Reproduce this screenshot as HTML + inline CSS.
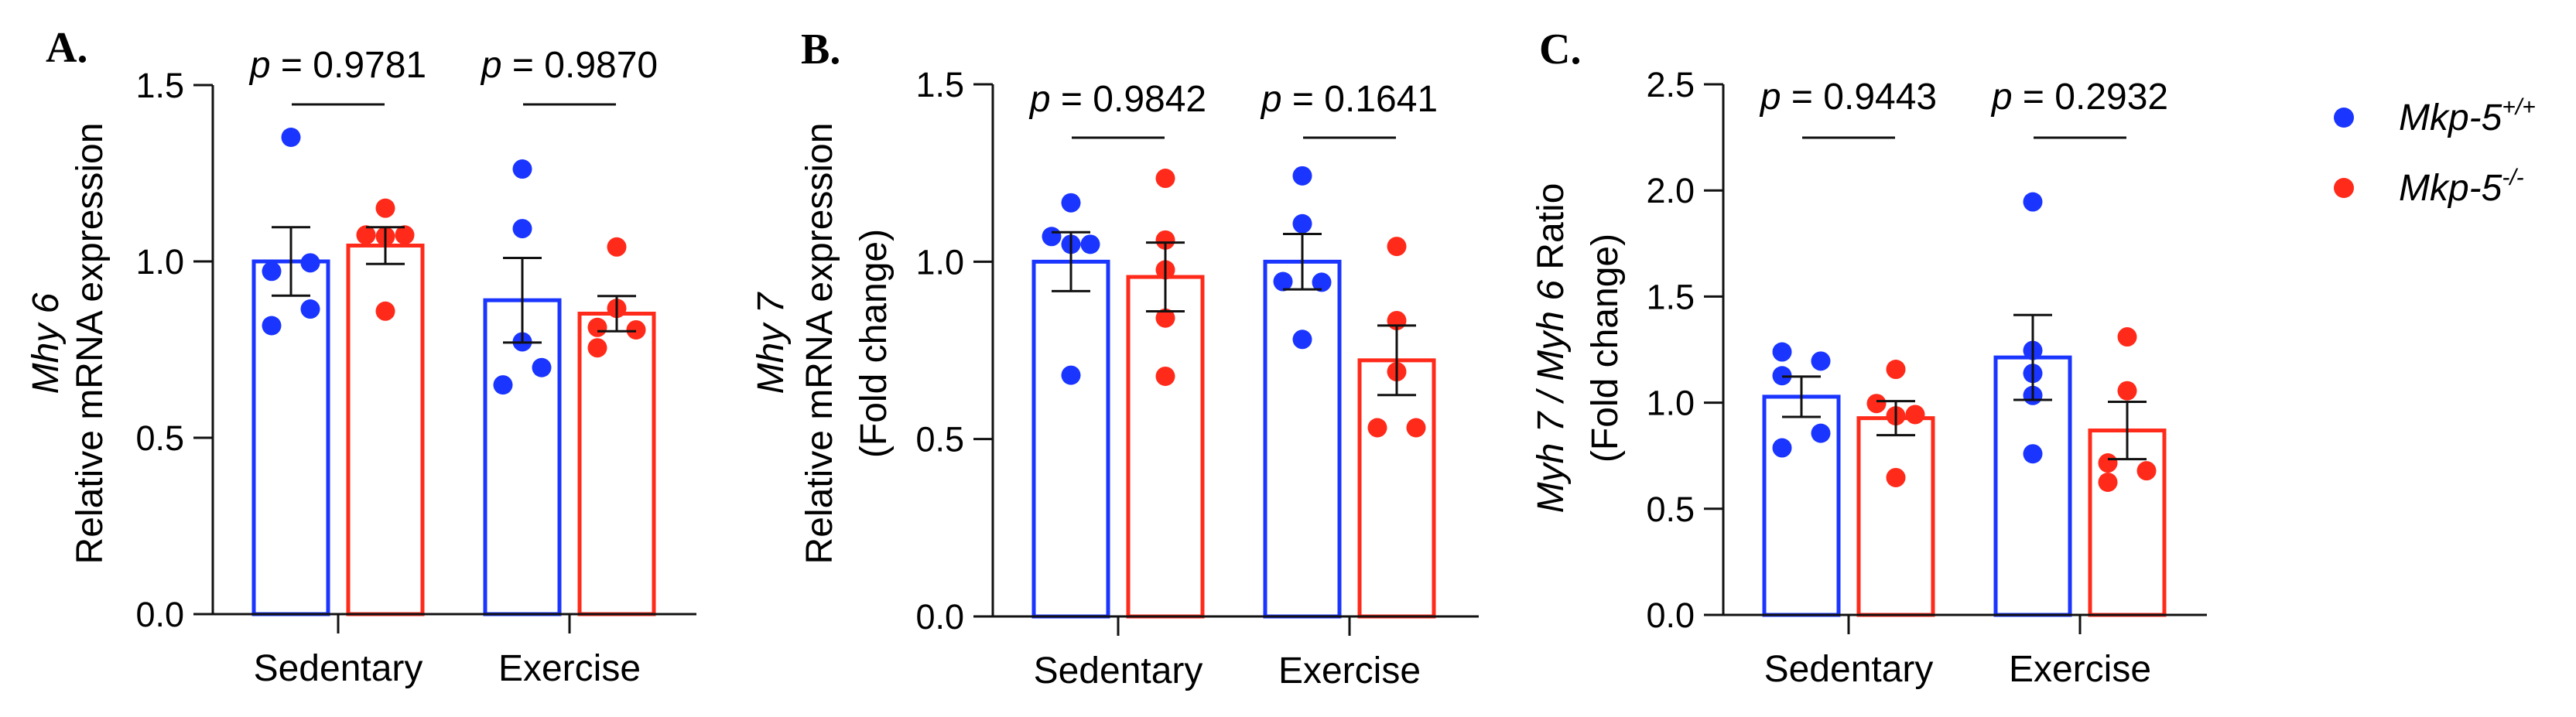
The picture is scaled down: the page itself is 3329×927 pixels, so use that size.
<!DOCTYPE html>
<html><head><meta charset="utf-8"><style>
html,body{margin:0;padding:0;background:#fff;}
svg{display:block;font-family:"Liberation Sans",Arial,sans-serif;}
.tk{font-size:45px;fill:#000;}
.lab{font-size:48px;fill:#000;}
.pan{font-family:"Liberation Serif",serif;font-weight:bold;font-size:56px;fill:#000;}
</style></head><body>
<svg id="fig" width="3329" height="927" viewBox="0 0 3329 927" xmlns="http://www.w3.org/2000/svg">
<text class="pan" x="59" y="80">A.</text>
<text class="pan" x="1035" y="82">B.</text>
<text class="pan" x="1989" y="82">C.</text>

<g>
<text class="lab" transform="translate(75,444) rotate(-90)" text-anchor="middle"><tspan font-style="italic">Mhy 6</tspan></text>
<text class="lab" transform="translate(132,444) rotate(-90)" text-anchor="middle">Relative mRNA expression</text>
</g>
<g>
<text class="lab" transform="translate(1012,444) rotate(-90)" text-anchor="middle"><tspan font-style="italic">Mhy 7</tspan></text>
<text class="lab" transform="translate(1075,444) rotate(-90)" text-anchor="middle">Relative mRNA expression</text>
<text class="lab" transform="translate(1145,444) rotate(-90)" text-anchor="middle">(Fold change)</text>
</g>
<g>
<text class="lab" transform="translate(2020,450) rotate(-90)" text-anchor="middle"><tspan font-style="italic">Myh 7 / Myh 6</tspan> Ratio</text>
<text class="lab" transform="translate(2090,450) rotate(-90)" text-anchor="middle">(Fold change)</text>
</g>

<g>
<circle cx="3029" cy="152" r="13" fill="#1a35ff"/>
<text class="lab" x="3100" y="168" font-style="italic">Mkp-5<tspan font-size="30" dy="-20">+/+</tspan></text>
<circle cx="3029" cy="243" r="13" fill="#ff2a1a"/>
<text class="lab" x="3100" y="259" font-style="italic">Mkp-5<tspan font-size="30" dy="-20">-/-</tspan></text>
</g>
</svg>
<script>
// ---- data ----
const categories = ["Sedentary", "Exercise"];
const pLabels = [["0.9781","0.9870"],["0.9842","0.1641"],["0.9443","0.2932"]];
const yTicksA = [0.0, 0.5, 1.0, 1.5];
const yTicksB = [0.0, 0.5, 1.0, 1.5];
const yTicksC = [0.0, 0.5, 1.0, 1.5, 2.0, 2.5];
// means [sedWT, sedKO, exWT, exKO]
const meansA = [1.0, 1.045, 0.89, 0.852];
const semA = [0.097, 0.052, 0.12, 0.05];
const meansB = [1.0, 0.957, 1.0, 0.722];
const semB = [0.083, 0.097, 0.078, 0.098];
const meansC = [1.028, 0.927, 1.213, 0.869];
const semC = [0.095, 0.08, 0.2, 0.135];
// individual points
const ptsA = [[1.352,0.972,0.996,0.865,0.818],[1.151,1.075,1.071,1.075,0.859],[1.262,1.093,0.772,0.699,0.650],[1.041,0.867,0.813,0.806,0.755]];
const jitA = [[0,-1,1,1,-1],[0,-1,0,1,0],[0,0,0,1,-1],[0,0,-1,1,-1]];
const ptsB = [[1.166,1.071,1.049,1.049,0.68],[1.235,1.061,0.977,0.841,0.677],[1.242,1.107,0.944,0.942,0.781],[1.043,0.834,0.69,0.532,0.532]];
const jitB = [[0,-1,0,1,0],[0,0,0,0,0],[0,0,-1,1,0],[0,0,0,-1,1]];
const ptsC = [[1.239,1.196,1.127,0.856,0.787],[1.157,0.996,0.938,0.944,0.647],[1.946,1.246,1.138,1.034,0.759],[1.310,1.056,0.716,0.679,0.625]];
const jitC = [[-1,1,-1,1,-1],[0,-1,0,1,0],[0,0,0,0,0],[0,0,-1,1,-1]];

const NS = "http://www.w3.org/2000/svg";
const svg = document.getElementById("fig");
const BLUE = "#1a35ff", RED = "#ff2a1a";
function mk(tag, attrs, parent){const e=document.createElementNS(NS,tag);for(const k in attrs)e.setAttribute(k,attrs[k]);(parent||svg).appendChild(e);return e;}

const panels = [
 {id:"a", ax:275, xEnd:900, y0:794, yTop:110, ymax:1.5, ticks:yTicksA, means:meansA, sem:semA, pts:ptsA, jit:jitA, pY:100, lineY:135},
 {id:"b", ax:1283, xEnd:1911, y0:797, yTop:109, ymax:1.5, ticks:yTicksB, means:meansB, sem:semB, pts:ptsB, jit:jitB, pY:144, lineY:178},
 {id:"c", ax:2227, xEnd:2852, y0:795, yTop:109, ymax:2.5, ticks:yTicksC, means:meansC, sem:semC, pts:ptsC, jit:jitC, pY:141, lineY:178}
];

panels.forEach((P, pi) => {
  const y = v => P.y0 - (v / P.ymax) * (P.y0 - P.yTop);
  const xCat = i => P.ax + 162 + i * 299;
  const g = mk("g", {});
  
  
  // bars
  for (let k = 0; k < 4; k++) {
    const cat = Math.floor(k / 2), grp = k % 2;
    const cx = xCat(cat) + (grp ? 61 : -61);
    const col = grp ? RED : BLUE;
    const r = mk("rect", {x: cx - 48, y: y(P.means[k]), width: 96, height: P.y0 - y(P.means[k]), fill: "none", stroke: col, "stroke-width": 5}, g);
    
    
    P.pts[k].forEach((v, j) => {
      const c = mk("circle", {cx: cx + P.jit[k][j] * 25, cy: y(v), r: 12.5, fill: col}, g);
      
      
    });
    const hi = y(P.means[k] + P.sem[k]), lo = y(P.means[k] - P.sem[k]);
    const eb = mk("path", {d: `M${cx},${hi}V${lo}M${cx-25},${hi}H${cx+25}M${cx-25},${lo}H${cx+25}`, stroke: "#111", "stroke-width": 3, fill: "none"}, g);
    
    
  }
  // axes
  const axis = mk("path", {d: `M${P.ax},${P.yTop}V${P.y0}H${P.xEnd}`, stroke: "#111", "stroke-width": 3, fill: "none"}, g);
  
  
  P.ticks.forEach(t => {
    mk("line", {x1: P.ax - 25, x2: P.ax, y1: y(t), y2: y(t), stroke: "#111", "stroke-width": 3}, g);
    const tl = mk("text", {x: P.ax - 37, y: y(t) + 16, "text-anchor": "end", class: "tk"}, g);
    tl.textContent = t.toFixed(1);
    
    
  });
  categories.forEach((c, i) => {
    mk("line", {x1: xCat(i), x2: xCat(i), y1: P.y0, y2: P.y0 + 25, stroke: "#111", "stroke-width": 3}, g);
    const cl = mk("text", {x: xCat(i), y: P.y0 + 86, "text-anchor": "middle", class: "lab"}, g);
    cl.textContent = c;
    
    
    const pt = mk("text", {x: xCat(i), y: P.pY, "text-anchor": "middle", class: "lab"}, g);
    pt.innerHTML = '<tspan font-style="italic">p</tspan> = ' + pLabels[pi][i];
    
    
    const sl = mk("line", {x1: xCat(i) - 60, x2: xCat(i) + 60, y1: P.lineY, y2: P.lineY, stroke: "#111", "stroke-width": 3}, g);
    
    
  });
});
</script>
</body></html>
